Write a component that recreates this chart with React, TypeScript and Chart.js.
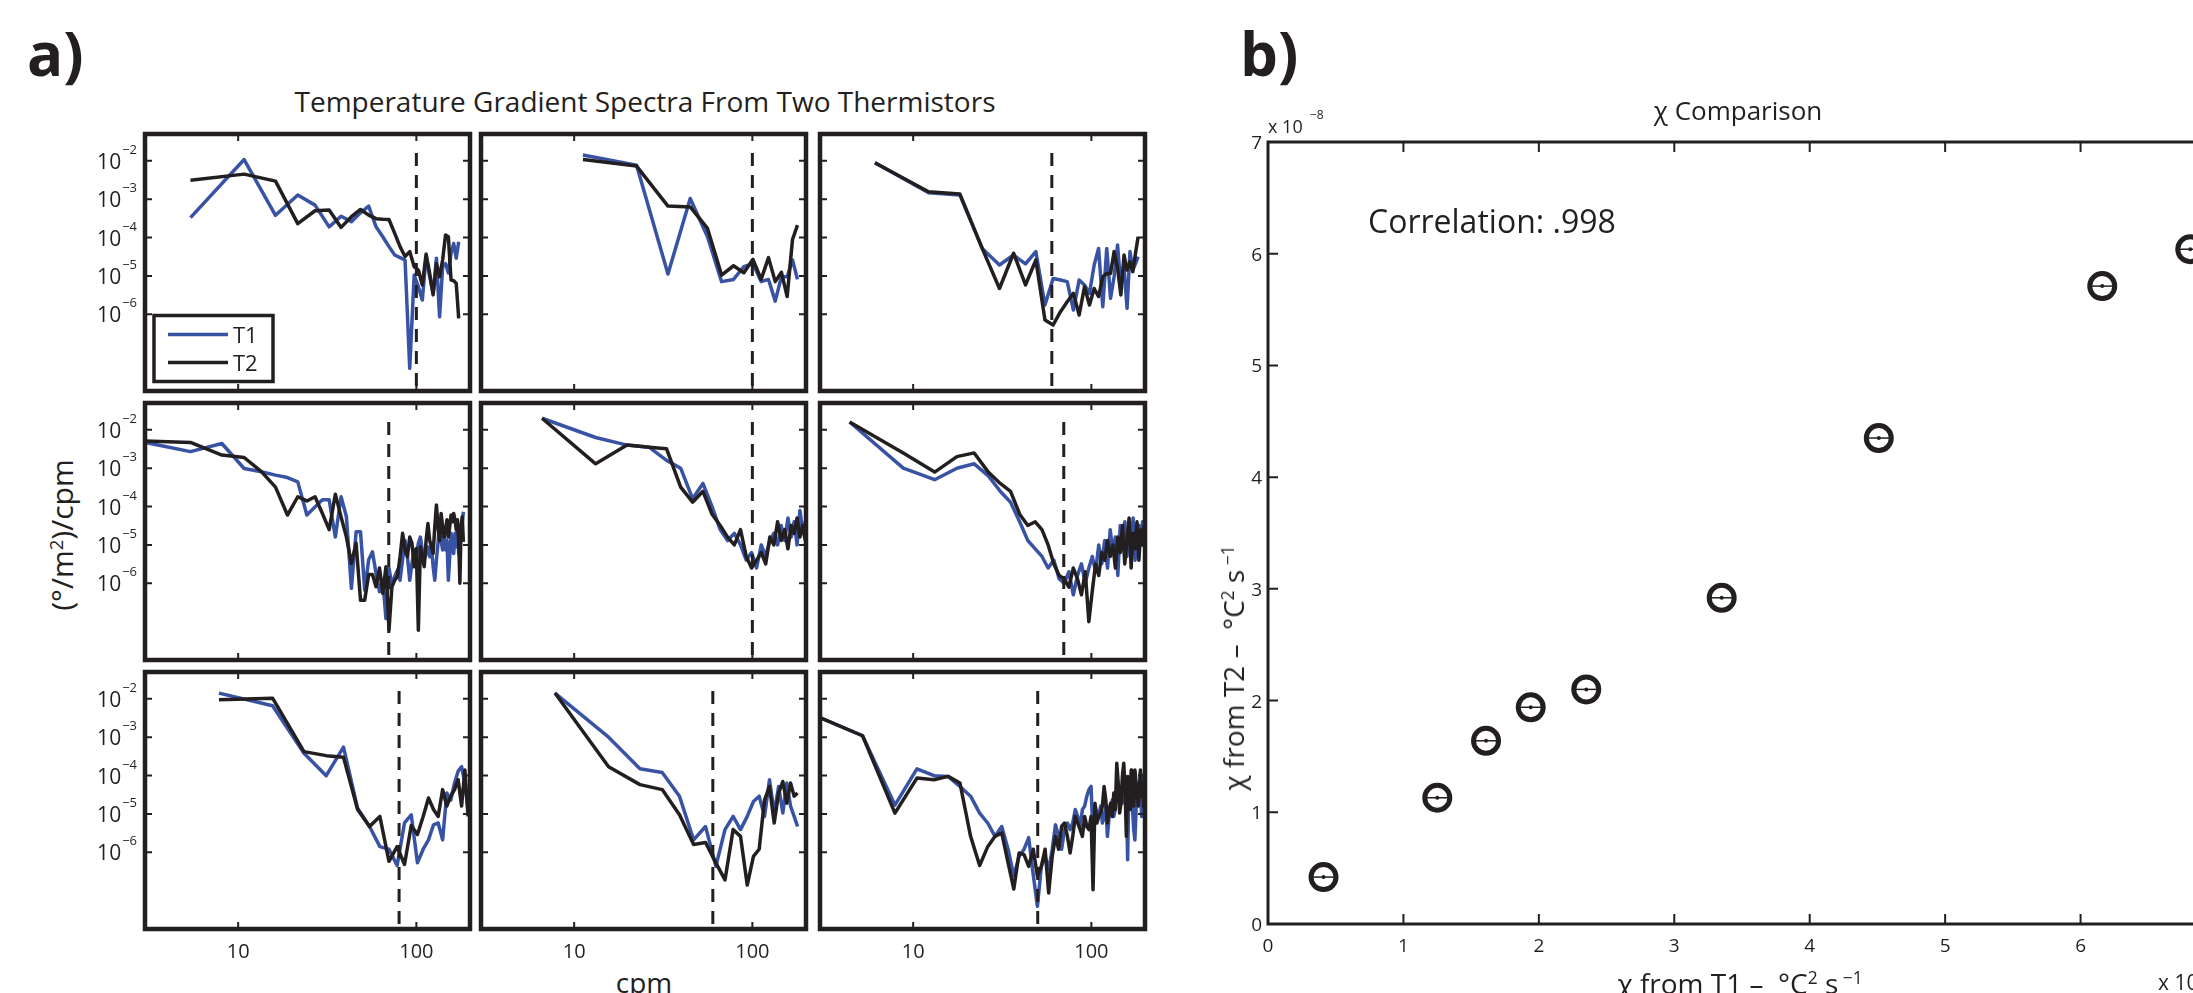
import React, { useEffect, useRef } from "react";
import { Chart, registerables } from "chart.js";

Chart.register(...registerables);

const FONT = '"Open Sans", "Noto Sans", sans-serif';
const INK = "#231f20";
const BLUE = "#3953a4";

// ---------- axis settings ----------
const X_MIN = 3;
const X_MAX = 200;
const Y_MIN = 1e-8;
const Y_MAX = 0.05;
const DASH_TOP = 0.016;
const xTickValues = [10, 100];
const xTickLabels = ["10", "100"];
const yTickValues = [1e-2, 1e-3, 1e-4, 1e-5, 1e-6];
const yTickExps = ["\u22122", "\u22123", "\u22124", "\u22125", "\u22126"];
const cutoffs = [100, 100, 60, 70, 100, 70, 80, 60, 50];

// ---------- row 1 ----------
const freqA1 = [5.4, 10.8, 16.2, 21.6, 27, 32.4, 37.8, 43.2, 48.6, 54, 59.4, 64.8, 70.2, 75.6, 81, 86.4, 91.8, 97.2, 102.6, 108, 113.4, 118.8, 124.2, 129.6, 135, 140.4, 145.8, 151.2, 156.6, 162, 167.4, 172.8];
const t1A1 = [3.3e-4, 1.08e-2, 3.8e-4, 1.28e-3, 7.0e-4, 1.9e-4, 3.6e-4, 2.6e-4, 4.4e-4, 6.6e-4, 1.9e-4, 1.05e-4, 5.8e-5, 3.5e-5, 3.0e-5, 2.6e-5, 3.9e-8, 1.05e-5, 5.2e-6, 2.35e-6, 3.2e-5, 9.5e-6, 3.5e-6, 2.9e-5, 8.6e-7, 1.7e-5, 2.1e-5, 1.2e-5, 3.9e-5, 7.0e-5, 2.9e-5, 7.8e-5];
const t2A1 = [3.1e-3, 4.5e-3, 2.95e-3, 2.3e-4, 5.0e-4, 5.2e-4, 1.84e-4, 3.5e-4, 5.4e-4, 3.85e-4, 3.1e-4, 3.0e-4, 2.96e-4, 1.28e-4, 5.8e-5, 3.2e-5, 4.3e-5, 1.74e-5, 1.42e-5, 5.8e-6, 3.7e-5, 1.16e-5, 3.2e-6, 2.1e-5, 9.5e-6, 2.6e-5, 1.16e-4, 1.05e-4, 7.8e-6, 7.5e-6, 6.4e-6, 7.8e-7];

const freqA2 = [11.2, 22.4, 33.6, 44.8, 56, 67.2, 78.4, 89.6, 100.8, 112, 123.2, 134.4, 145.6, 156.8, 168, 179.2];
const t1A2 = [1.41e-2, 7.7e-3, 1.12e-5, 1.04e-3, 1.05e-4, 7.1e-6, 8.1e-6, 1.74e-5, 2.1e-5, 7.1e-6, 8.1e-6, 2.2e-6, 9.5e-6, 9.5e-6, 2.6e-5, 8.1e-6];
const t2A2 = [1.08e-2, 7.3e-3, 6.6e-4, 6.3e-4, 1.73e-4, 1.05e-5, 1.84e-5, 1.21e-5, 2.7e-5, 8.1e-6, 3.0e-5, 7.1e-6, 1.24e-5, 2.9e-6, 8.9e-5, 2.1e-4];

const freqA3 = [6.1, 12.2, 18.3, 24.4, 30.5, 36.6, 42.7, 48.8, 54.9, 61, 67.1, 73.2, 79.3, 85.4, 91.5, 97.6, 103.7, 109.8, 115.9, 122, 128.1, 134.2, 140.3, 146.4, 152.5, 158.6, 164.7, 170.8, 176.9, 183];
const t1A3 = [8.9e-3, 1.47e-3, 1.28e-3, 5.2e-5, 1.92e-5, 3.5e-5, 2.05e-5, 4.3e-5, 1.74e-6, 8.6e-6, 7.8e-6, 7.1e-6, 1.29e-6, 7.8e-6, 5.8e-6, 3.5e-6, 1.92e-5, 5.2e-5, 1.58e-6, 5.2e-5, 2.6e-6, 9.5e-6, 6.4e-5, 5.2e-6, 1.74e-5, 1.43e-6, 4.3e-5, 1.42e-5, 2.1e-5, 3.2e-5];
const t2A3 = [8.9e-3, 1.56e-3, 1.36e-3, 5.2e-5, 4.7e-6, 3.9e-5, 5.8e-6, 2.6e-5, 7.1e-7, 5.25e-7, 1.17e-6, 2.13e-6, 3.5e-6, 9.6e-7, 5.2e-6, 1.74e-6, 4.7e-6, 2.9e-6, 9.5e-6, 1.16e-5, 1.16e-5, 4.3e-5, 1.57e-5, 3.2e-6, 3.5e-5, 1.42e-5, 2.34e-5, 1.29e-5, 3.9e-5, 1.05e-4];

// ---------- row 2 ----------
const freqB1 = [2.7, 5.4, 8.1, 10.8, 13.5, 16.2, 18.9, 21.6, 24.3, 27, 29.7, 32.4, 35.1, 37.8, 40.5, 43.2, 45.9, 48.6, 51.3, 54, 56.7, 59.4, 62.1, 64.8, 67.5, 70.2, 72.9, 75.6, 78.3, 81, 83.7, 86.4, 89.1, 91.8, 94.5, 97.2, 99.9, 102.6, 105.3, 108, 110.7, 113.4, 116.1, 118.8, 121.5, 124.2, 126.9, 129.6, 132.3, 135, 137.7, 140.4, 143.1, 145.8, 148.5, 151.2, 153.9, 156.6, 159.3, 162, 164.7, 167.4, 170.1, 172.8, 175.5, 178.2, 180.9, 183.6];
const t1B1 = [5.2e-3, 2.7e-3, 4.4e-3, 9.8e-4, 8.1e-4, 6.6e-4, 5.7e-4, 4.4e-4, 6.0e-5, 9.8e-5, 1.5e-4, 1.5e-4, 1.6e-5, 1.8e-4, 5.4e-5, 7.4e-7, 2.2e-5, 2.2e-5, 6.6e-7, 4.1e-6, 6.6e-6, 1.8e-6, 6.0e-7, 1.2e-6, 1.2e-7, 2.5e-6, 8.9e-7, 1.5e-6, 2.2e-6, 1.2e-6, 4.1e-6, 1.3e-5, 4.9e-6, 1.2e-6, 3.3e-6, 7.4e-6, 4.9e-6, 1.1e-5, 1.6e-5, 7.4e-6, 4.1e-6, 6.0e-6, 8.9e-6, 4.9e-6, 8.9e-6, 2.7e-6, 1.2e-6, 4.1e-6, 1.1e-5, 4.5e-5, 1.3e-5, 7.4e-6, 2.5e-5, 7.4e-6, 1.3e-5, 1.2e-6, 4.9e-6, 2.0e-5, 1.1e-5, 6.0e-6, 2.0e-5, 8.9e-6, 3.0e-5, 6.0e-6, 1.3e-5, 2.0e-5, 3.6e-5, 7.3e-5];
const t2B1 = [5.2e-3, 4.7e-3, 2.2e-3, 1.9e-3, 8.1e-4, 3.2e-4, 6.0e-5, 1.8e-4, 1.4e-4, 1.8e-4, 6.6e-5, 2.5e-5, 2.1e-4, 5.4e-5, 1.6e-5, 3.3e-6, 1.1e-5, 3.6e-7, 3.6e-7, 1.7e-6, 1.7e-6, 8.1e-7, 2.5e-6, 5.5e-7, 2.7e-6, 6.0e-8, 8.1e-7, 1.2e-6, 1.5e-6, 4.9e-6, 2.0e-5, 7.4e-6, 4.9e-6, 1.6e-5, 1.1e-5, 2.7e-6, 8.1e-6, 6.0e-8, 8.9e-6, 4.9e-6, 2.7e-6, 1.3e-5, 3.6e-5, 1.3e-5, 8.9e-6, 6.0e-6, 3.0e-5, 1.1e-4, 3.0e-5, 1.3e-5, 6.6e-5, 3.0e-5, 1.6e-5, 2.5e-5, 4.5e-5, 1.6e-5, 3.0e-5, 6.0e-5, 4.0e-5, 6.6e-5, 4.5e-5, 2.5e-5, 4.5e-5, 1.3e-5, 1.0e-6, 3.0e-5, 5.4e-5, 1.2e-5];

const freqB2 = [6.6, 13.2, 19.8, 26.4, 33, 39.6, 46.2, 52.8, 59.4, 66, 72.6, 79.2, 85.8, 92.4, 99, 105.6, 112.2, 118.8, 125.4, 132, 138.6, 145.2, 151.8, 158.4, 165, 171.6, 178.2, 184.8, 191.4, 198];
const t1B2 = [2.0e-2, 6.3e-3, 4.0e-3, 3.5e-3, 1.6e-3, 1.0e-3, 1.6e-4, 4.0e-4, 1.0e-4, 2.5e-5, 1.3e-5, 2.0e-5, 1.0e-5, 4.0e-6, 6.3e-6, 2.5e-6, 1.0e-5, 5.0e-6, 1.3e-5, 2.0e-5, 1.0e-5, 3.2e-5, 1.3e-5, 5.0e-5, 1.6e-5, 4.0e-5, 1.0e-5, 7.9e-5, 2.5e-5, 4.0e-5];
const t2B2 = [2.0e-2, 1.3e-3, 4.0e-3, 3.5e-3, 3.2e-3, 3.2e-4, 1.3e-4, 2.5e-4, 6.3e-5, 3.2e-5, 1.6e-5, 1.0e-5, 2.5e-5, 5.0e-6, 2.5e-6, 4.0e-6, 6.3e-6, 3.2e-6, 1.6e-5, 1.0e-5, 4.0e-5, 1.3e-5, 2.5e-5, 7.9e-6, 3.2e-5, 2.0e-5, 5.0e-5, 1.6e-5, 3.2e-5, 1.3e-5];

const freqB3 = [4.4, 8.8, 13.2, 17.6, 22, 26.4, 30.8, 35.2, 39.6, 44, 48.4, 52.8, 57.2, 61.6, 66, 70.4, 74.8, 79.2, 83.6, 88, 92.4, 96.8, 101.2, 105.6, 110, 114.4, 118.8, 123.2, 127.6, 132, 136.4, 140.8, 145.2, 149.6, 154, 158.4, 162.8, 167.2, 171.6, 176, 180.4, 184.8, 189.2, 193.6, 198];
const t1B3 = [1.6e-2, 1.0e-3, 5.0e-4, 1.0e-3, 1.3e-3, 6.3e-4, 2.5e-4, 1.3e-4, 4.0e-5, 1.3e-5, 7.9e-6, 5.0e-6, 2.5e-6, 4.0e-6, 1.3e-6, 1.0e-6, 2.0e-6, 5.0e-7, 1.6e-6, 3.2e-6, 1.0e-6, 2.5e-6, 5.0e-6, 2.0e-6, 1.0e-5, 3.2e-6, 1.3e-5, 2.5e-6, 2.5e-5, 6.3e-6, 1.6e-5, 1.6e-6, 3.2e-5, 1.0e-5, 4.0e-5, 5.0e-6, 2.5e-5, 1.3e-5, 5.0e-5, 4.0e-6, 2.0e-5, 3.2e-5, 1.0e-5, 4.0e-5, 2.0e-5];
const t2B3 = [1.6e-2, 2.5e-3, 7.9e-4, 2.0e-3, 2.5e-3, 7.9e-4, 4.0e-4, 2.5e-4, 6.3e-5, 3.2e-5, 4.0e-5, 2.5e-5, 1.0e-5, 3.2e-6, 1.6e-6, 1.3e-6, 7.9e-7, 2.5e-6, 1.3e-6, 5.0e-7, 2.0e-6, 1.0e-7, 6.3e-7, 3.2e-6, 1.6e-6, 6.3e-6, 4.0e-6, 1.3e-5, 5.0e-6, 1.0e-5, 2.5e-6, 1.6e-5, 6.3e-6, 3.2e-5, 3.2e-6, 1.3e-5, 5.0e-5, 2.5e-6, 2.0e-5, 7.9e-6, 4.0e-5, 4.0e-6, 2.5e-5, 1.0e-5, 3.2e-5];

// ---------- row 3 ----------
const freqC1 = [7.8, 15.6, 23.4, 31.2, 39, 46.8, 54.6, 62.4, 70.2, 78, 85.8, 93.6, 101.4, 109.2, 117, 124.8, 132.6, 140.4, 148.2, 156, 163.8, 171.6, 179.4, 187.2, 195];
const t1C1 = [1.41e-2, 6.6e-3, 3.8e-4, 9.9e-5, 5.5e-4, 1.4e-5, 4.7e-6, 1.4e-6, 1.2e-6, 4.5e-7, 5.8e-6, 9.5e-6, 5.3e-7, 1.2e-6, 2.1e-6, 5.2e-6, 5.8e-6, 2.1e-6, 3.5e-5, 2.3e-5, 6.4e-5, 1.3e-4, 1.7e-4, 6.4e-5, 1.3e-5];
const t2C1 = [9.4e-3, 1.04e-2, 4.2e-4, 3.3e-4, 3.0e-4, 1.3e-5, 4.7e-6, 8.6e-6, 5.8e-7, 1.4e-6, 4.8e-7, 5.0e-6, 2.9e-6, 8.6e-6, 2.6e-5, 1.3e-5, 8.6e-6, 4.3e-5, 1.6e-5, 2.9e-5, 4.3e-5, 7.8e-5, 1.6e-5, 1.4e-4, 8.6e-6];

const freqC2 = [7.8, 15.6, 23.4, 31.2, 39, 46.8, 54.6, 62.4, 70.2, 78, 85.8, 93.6, 101.4, 109.2, 117, 124.8, 132.6, 140.4, 148.2, 156, 163.8, 171.6, 179.4];
const t1C2 = [1.41e-2, 1.0e-3, 1.5e-4, 1.2e-4, 2.9e-5, 2.1e-6, 4.7e-6, 4.3e-7, 3.9e-6, 8.6e-6, 3.9e-6, 8.6e-6, 2.1e-5, 2.9e-5, 8.6e-6, 7.8e-5, 1.05e-5, 5.2e-5, 1.05e-5, 6.4e-5, 1.6e-5, 8.6e-6, 4.7e-6];
const t2C2 = [1.41e-2, 1.7e-4, 5.8e-5, 4.3e-5, 9.5e-6, 1.6e-6, 1.8e-6, 5.3e-7, 1.9e-7, 3.9e-6, 2.6e-6, 1.4e-7, 7.8e-7, 1.2e-6, 2.3e-5, 5.2e-5, 5.8e-6, 3.5e-5, 7.0e-5, 1.9e-5, 6.4e-5, 2.9e-5, 3.5e-5];

const freqC3 = [2.6, 5.2, 7.9, 10.5, 13.1, 15.7, 18.3, 21.0, 23.6, 26.2, 28.8, 31.4, 34.1, 36.7, 39.3, 41.9, 44.5, 47.2, 49.8, 52.4, 55.0, 57.6, 60.3, 62.9, 65.5, 68.1, 70.7, 73.4, 76.0, 78.6, 81.2, 83.8, 86.5, 89.1, 91.7, 94.3, 96.9, 99.6, 102.2, 104.8, 107.4, 110.0, 112.7, 115.3, 117.9, 120.5, 123.1, 125.8, 128.4, 131.0, 133.6, 136.2, 138.9, 141.5, 144.1, 146.7, 149.3, 152.0, 154.6, 157.2, 159.8, 162.4, 165.1, 167.7, 170.3, 172.9, 175.5, 178.2, 180.8, 183.4, 186.0, 188.6, 191.3, 193.9, 196.5, 199.1];
const t1C3 = [4.3e-3, 1.09e-3, 1.7e-5, 1.5e-4, 9.9e-5, 9.5e-5, 5.2e-5, 2.9e-5, 1.05e-5, 5.8e-6, 2.6e-6, 4.7e-6, 1.2e-6, 2.4e-7, 7.8e-7, 1.2e-6, 2.4e-6, 2.6e-7, 3.9e-8, 4.3e-7, 7.8e-7, 3.5e-7, 1.2e-6, 5.2e-6, 2.6e-6, 1.2e-6, 3.9e-6, 5.8e-6, 3.9e-6, 5.8e-6, 1.3e-5, 8.6e-6, 4.7e-6, 1.3e-5, 1.6e-5, 2.9e-5, 4.3e-5, 5.2e-5, 2.6e-6, 1.6e-5, 1.05e-5, 8.6e-6, 1.6e-5, 5.8e-6, 8.6e-6, 1.6e-5, 2.6e-6, 8.6e-6, 1.3e-5, 2.3e-5, 8.6e-6, 1.3e-5, 4.3e-5, 2.9e-5, 1.9e-5, 3.5e-5, 1.9e-5, 6.4e-5, 9.5e-5, 2.9e-5, 6.4e-7, 6.4e-5, 2.3e-5, 1.4e-4, 1.3e-5, 3.9e-6, 2.1e-6, 1.3e-5, 4.3e-5, 6.4e-5, 2.3e-5, 1.2e-4, 8.6e-6, 9.5e-5, 4.3e-5, 1.2e-4];
const t2C3 = [4.3e-3, 1.09e-3, 1.05e-5, 8.6e-5, 7.8e-5, 9.5e-5, 6.4e-5, 2.6e-6, 4.5e-7, 1.4e-6, 2.6e-6, 3.2e-6, 5.3e-7, 1.1e-7, 9.6e-7, 8.7e-7, 4.3e-7, 1.2e-6, 2.4e-7, 4.3e-7, 1.2e-6, 8.7e-8, 7.8e-7, 2.6e-6, 1.2e-6, 4.7e-6, 5.8e-6, 2.6e-6, 9.6e-7, 2.6e-6, 8.6e-6, 5.8e-6, 3.9e-6, 2.6e-6, 8.6e-6, 4.7e-6, 3.9e-6, 8.6e-6, 1.05e-7, 1.9e-5, 5.8e-6, 8.6e-6, 1.05e-5, 1.6e-5, 5.2e-5, 2.3e-5, 5.8e-6, 1.3e-5, 1.9e-5, 8.6e-6, 3.5e-5, 1.3e-5, 2.1e-4, 6.4e-5, 1.05e-5, 1.9e-5, 9.5e-5, 2.1e-4, 4.3e-5, 2.6e-6, 9.5e-5, 6.4e-5, 1.3e-5, 1.4e-4, 2.9e-5, 1.6e-5, 1.4e-4, 6.4e-5, 3.5e-5, 1.6e-5, 4.3e-5, 1.4e-4, 2.9e-5, 6.4e-5, 1.6e-5, 4.3e-5];

// ---------- panel b ----------
const chiT1 = [0.41, 1.25, 1.61, 1.94, 2.35, 3.35, 4.51, 6.16, 6.81];
const chiT2 = [0.42, 1.13, 1.64, 1.94, 2.1, 2.92, 4.35, 5.71, 6.04];
const chiTicks = [0, 1, 2, 3, 4, 5, 6, 7];
const CHI_MIN = 0;
const CHI_MAX = 7;

const PANELS = [
  { freq: freqA1, t1: t1A1, t2: t2A1 },
  { freq: freqA2, t1: t1A2, t2: t2A2 },
  { freq: freqA3, t1: t1A3, t2: t2A3 },
  { freq: freqB1, t1: t1B1, t2: t2B1 },
  { freq: freqB2, t1: t1B2, t2: t2B2 },
  { freq: freqB3, t1: t1B3, t2: t2B3 },
  { freq: freqC1, t1: t1C1, t2: t2C1 },
  { freq: freqC2, t1: t1C2, t2: t2C2 },
  { freq: freqC3, t1: t1C3, t2: t2C3 },
];

// ---------- layout ----------
const COL_LEFT = [145, 481, 820];
const ROW_TOP = [134, 403, 672];
const PW = 325;
const PH = 257;
const PAD = 56;
const LINE_W = 3.5;
const FRAME_W = 4.5;

function drawLegend(ctx: CanvasRenderingContext2D, a: any, chart: any) {
  const bw = 119;
  const bh = 66;
  const bx = a.left + 9;
  const by = a.bottom - 9.5 - bh;
  ctx.fillStyle = "#fff";
  ctx.fillRect(bx, by, bw, bh);
  ctx.lineWidth = 3.5;
  ctx.strokeStyle = INK;
  ctx.strokeRect(bx, by, bw, bh);
  const entries = chart.data.datasets.filter((d: any) => d.label === "T1" || d.label === "T2");
  entries.sort((p: any, q: any) => (p.label < q.label ? -1 : 1));
  entries.forEach((d: any, i: number) => {
    const ly = by + 19 + i * 28;
    ctx.strokeStyle = d.borderColor;
    ctx.lineWidth = LINE_W;
    ctx.beginPath();
    ctx.moveTo(bx + 14, ly);
    ctx.lineTo(bx + 74, ly);
    ctx.stroke();
    ctx.fillStyle = INK;
    ctx.font = `22px ${FONT}`;
    ctx.textAlign = "left";
    ctx.textBaseline = "alphabetic";
    ctx.fillText(d.label, bx + 79, ly + 8);
  });
}

function specAxesPlugin(row: number, col: number, legend: boolean) {
  return {
    id: "specAxes",
    afterDatasetsDraw(chart: any) {
      const ctx = chart.ctx as CanvasRenderingContext2D;
      const a = chart.chartArea;
      const xs = chart.scales.x;
      const ys = chart.scales.y;
      ctx.save();
      if (legend) drawLegend(ctx, a, chart);
      ctx.strokeStyle = INK;
      ctx.lineWidth = 2;
      ctx.beginPath();
      for (const v of xTickValues) {
        const px = xs.getPixelForValue(v);
        ctx.moveTo(px, a.top);
        ctx.lineTo(px, a.top + 7);
        ctx.moveTo(px, a.bottom);
        ctx.lineTo(px, a.bottom - 7);
      }
      for (const v of yTickValues) {
        const py = ys.getPixelForValue(v);
        ctx.moveTo(a.left, py);
        ctx.lineTo(a.left + 7, py);
        ctx.moveTo(a.right, py);
        ctx.lineTo(a.right - 7, py);
      }
      ctx.stroke();
      ctx.lineWidth = FRAME_W;
      ctx.strokeRect(a.left, a.top, a.right - a.left, a.bottom - a.top);
      ctx.fillStyle = INK;
      if (col === 0) {
        yTickValues.forEach((v, i) => {
          const py = ys.getPixelForValue(v);
          ctx.font = `13px ${FONT}`;
          ctx.textAlign = "right";
          ctx.textBaseline = "alphabetic";
          const supRight = a.left - 8;
          const supW = ctx.measureText(yTickExps[i]).width;
          ctx.fillText(yTickExps[i], supRight, py - 7);
          ctx.font = `21px ${FONT}`;
          ctx.fillText("10", supRight - supW - 1, py + 8);
        });
      }
      if (row === 2) {
        ctx.font = `20px ${FONT}`;
        ctx.textAlign = "center";
        ctx.textBaseline = "alphabetic";
        xTickValues.forEach((v, i) => {
          ctx.fillText(xTickLabels[i], xs.getPixelForValue(v), a.bottom + 29);
        });
      }
      ctx.restore();
    },
  };
}

function SpectrumPanel({ index }: { index: number }) {
  const ref = useRef<HTMLCanvasElement>(null);
  const row = Math.floor(index / 3);
  const col = index % 3;
  useEffect(() => {
    const spec = PANELS[index];
    const cut = cutoffs[index];
    const chart = new Chart(ref.current as HTMLCanvasElement, {
      type: "line",
      data: {
        datasets: [
          {
            label: "cutoff",
            data: [
              { x: cut, y: DASH_TOP },
              { x: cut, y: Y_MIN },
            ],
            borderColor: INK,
            borderWidth: 3,
            borderDash: [13, 9],
            pointRadius: 0,
            order: 0,
          },
          {
            label: "T2",
            data: spec.freq.map((f, i) => ({ x: f, y: spec.t2[i] })),
            borderColor: INK,
            borderWidth: LINE_W,
            pointRadius: 0,
            order: 1,
          },
          {
            label: "T1",
            data: spec.freq.map((f, i) => ({ x: f, y: spec.t1[i] })),
            borderColor: BLUE,
            borderWidth: LINE_W,
            pointRadius: 0,
            order: 2,
          },
        ],
      } as any,
      options: {
        animation: false,
        responsive: false,
        maintainAspectRatio: false,
        events: [],
        layout: { padding: PAD },
        elements: { line: { tension: 0, borderJoinStyle: "round", borderCapStyle: "butt" } },
        scales: {
          x: { type: "logarithmic", min: X_MIN, max: X_MAX, display: false },
          y: { type: "logarithmic", min: Y_MIN, max: Y_MAX, display: false },
        },
        plugins: { legend: { display: false }, tooltip: { enabled: false }, title: { display: false } },
      } as any,
      plugins: [specAxesPlugin(row, col, index === 0)],
    });
    return () => chart.destroy();
  }, [index]);
  return (
    <canvas
      ref={ref}
      width={PW + 2 * PAD}
      height={PH + 2 * PAD}
      style={{
        position: "absolute",
        left: COL_LEFT[col] - PAD,
        top: ROW_TOP[row] - PAD,
        width: PW + 2 * PAD,
        height: PH + 2 * PAD,
      }}
    />
  );
}

// panel b geometry
const B_LEFT = 1268;
const B_TOP = 142;
const B_W = 948;
const B_H = 782;
const B_PAD = 70;

const chiAxesPlugin = {
  id: "chiAxes",
  afterDatasetsDraw(chart: any) {
    const ctx = chart.ctx as CanvasRenderingContext2D;
    const a = chart.chartArea;
    const xs = chart.scales.x;
    const ys = chart.scales.y;
    ctx.save();
    ctx.strokeStyle = INK;
    ctx.lineWidth = 2;
    ctx.beginPath();
    for (const v of chiTicks) {
      const px = xs.getPixelForValue(v);
      ctx.moveTo(px, a.top);
      ctx.lineTo(px, a.top + 10);
      ctx.moveTo(px, a.bottom);
      ctx.lineTo(px, a.bottom - 10);
      const py = ys.getPixelForValue(v);
      ctx.moveTo(a.left, py);
      ctx.lineTo(a.left + 10, py);
      ctx.moveTo(a.right, py);
      ctx.lineTo(a.right - 10, py);
    }
    ctx.stroke();
    ctx.lineWidth = 3;
    ctx.strokeRect(a.left, a.top, a.right - a.left, a.bottom - a.top);
    ctx.fillStyle = INK;
    ctx.font = `19px ${FONT}`;
    ctx.textBaseline = "alphabetic";
    ctx.textAlign = "right";
    for (const v of chiTicks) {
      ctx.fillText(String(v), a.left - 6, ys.getPixelForValue(v) + 7);
    }
    ctx.textAlign = "center";
    for (const v of chiTicks) {
      ctx.fillText(String(v), xs.getPixelForValue(v), a.bottom + 28);
    }
    ctx.textAlign = "left";
    ctx.font = `18px ${FONT}`;
    ctx.fillText("x 10", a.left, a.top - 9);
    ctx.font = `12px ${FONT}`;
    ctx.fillText("\u22128", a.left + 42, a.top - 23);
    ctx.restore();
  },
};

function ChiPanel() {
  const ref = useRef<HTMLCanvasElement>(null);
  useEffect(() => {
    const pts = chiT1.map((v, i) => ({ x: v, y: chiT2[i] }));
    const chart = new Chart(ref.current as HTMLCanvasElement, {
      type: "scatter",
      data: {
        datasets: [
          {
            label: "chi",
            data: pts,
            pointStyle: "circle",
            pointRadius: 12.5,
            borderWidth: 5,
            borderColor: INK,
            backgroundColor: "rgba(0,0,0,0)",
          },
          {
            label: "err",
            data: pts,
            pointStyle: "line",
            pointRadius: 14,
            borderWidth: 1.5,
            borderColor: INK,
          },
          {
            label: "dot",
            data: pts,
            pointStyle: "circle",
            pointRadius: 2,
            borderWidth: 0,
            backgroundColor: INK,
          },
        ],
      } as any,
      options: {
        animation: false,
        responsive: false,
        maintainAspectRatio: false,
        events: [],
        layout: { padding: B_PAD },
        scales: {
          x: { type: "linear", min: CHI_MIN, max: CHI_MAX, display: false },
          y: { type: "linear", min: CHI_MIN, max: CHI_MAX, display: false },
        },
        plugins: { legend: { display: false }, tooltip: { enabled: false } },
      } as any,
      plugins: [chiAxesPlugin],
    });
    return () => chart.destroy();
  }, []);
  return (
    <canvas
      ref={ref}
      width={B_W + 2 * B_PAD}
      height={B_H + 2 * B_PAD}
      style={{
        position: "absolute",
        left: B_LEFT - B_PAD,
        top: B_TOP - B_PAD,
        width: B_W + 2 * B_PAD,
        height: B_H + 2 * B_PAD,
      }}
    />
  );
}

const txt = (extra: React.CSSProperties): React.CSSProperties => ({
  position: "absolute",
  whiteSpace: "nowrap",
  lineHeight: 1,
  ...extra,
});

const sup: React.CSSProperties = { fontSize: "0.62em", position: "relative", top: "-0.55em" };

export default function App() {
  return (
    <div
      style={{
        position: "absolute",
        left: 0,
        top: 0,
        width: 2193,
        height: 993,
        overflow: "hidden",
        background: "#fff",
        fontFamily: FONT,
        color: INK,
      }}
    >
      <div style={txt({ left: 27, top: 23, fontSize: 60, fontWeight: 700 })}>a)</div>
      <div style={txt({ left: 1240, top: 23, fontSize: 60, fontWeight: 700 })}>b)</div>
      <div style={txt({ left: 645, top: 87, fontSize: 28, transform: "translateX(-50%)" })}>
        Temperature Gradient Spectra From Two Thermistors
      </div>
      <div
        style={txt({
          left: 62,
          top: 535,
          fontSize: 30,
          transform: "translate(-50%, -50%) rotate(-90deg)",
        })}
      >
        (°/m<span style={sup}>2</span>)/cpm
      </div>
      <div style={txt({ left: 644, top: 968, fontSize: 28, transform: "translateX(-50%)" })}>cpm</div>

      {PANELS.map((_, i) => (
        <SpectrumPanel key={i} index={i} />
      ))}

      <ChiPanel />

      <div style={txt({ left: 1738, top: 97, fontSize: 26, transform: "translateX(-50%)" })}>χ Comparison</div>
      <div style={txt({ left: 1368, top: 205, fontSize: 32 })}>Correlation: .998</div>
      <div
        style={txt({
          left: 1233,
          top: 668,
          fontSize: 28,
          transform: "translate(-50%, -50%) rotate(-90deg)",
        })}
      >
        χ from T2 –&nbsp; °C<span style={sup}>2</span> s<span style={sup}>&nbsp;−1</span>
      </div>
      <div style={txt({ left: 1740, top: 969, fontSize: 28, transform: "translateX(-50%)" })}>
        χ from T1 –&nbsp; °C<span style={sup}>2</span> s<span style={sup}>&nbsp;−1</span>
      </div>
      <div style={txt({ left: 2158, top: 972, fontSize: 21 })}>
        x 10<span style={sup}>−8</span>
      </div>
    </div>
  );
}
